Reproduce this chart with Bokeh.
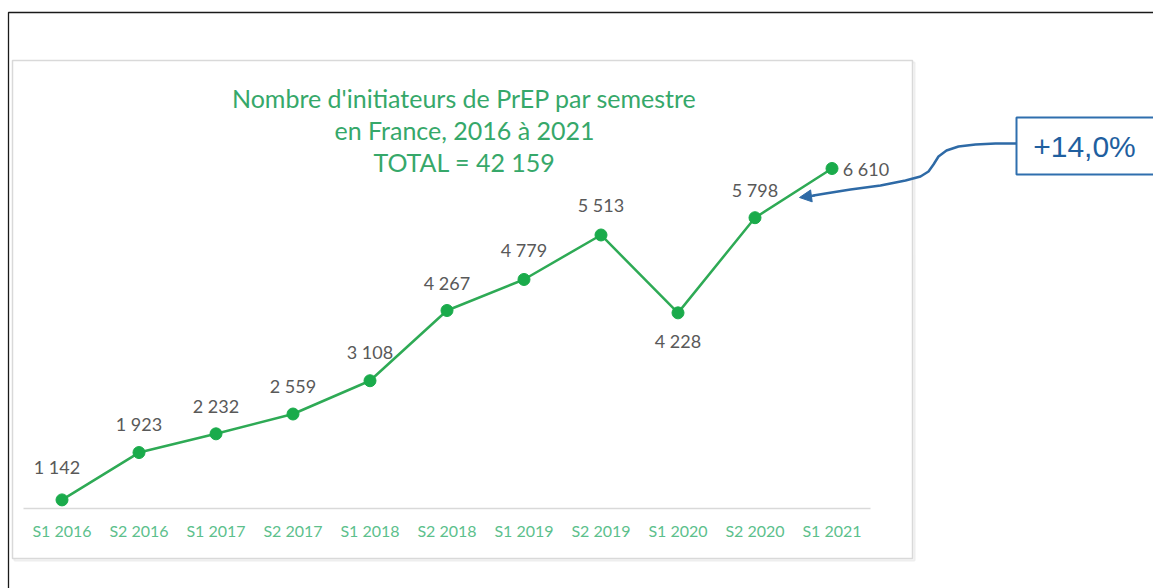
from bokeh.plotting import figure
from bokeh.models import (Range1d, ColumnDataSource, LabelSet, Label, FixedTicker,
                          BoxAnnotation, Arrow, NormalHead)
from bokeh.core.properties import value
from bokeh.embed import file_html
from bokeh.resources import INLINE

# ---- data ----
categories = ["S1 2016", "S2 2016", "S1 2017", "S2 2017", "S1 2018", "S2 2018",
              "S1 2019", "S2 2019", "S1 2020", "S2 2020", "S1 2021"]
values = [1142, 1923, 2232, 2559, 3108, 4267, 4779, 5513, 4228, 5798, 6610]
value_labels = ["1 142", "1 923", "2 232", "2 559", "3 108", "4 267",
                "4 779", "5 513", "4 228", "5 798", "6 610"]
title_lines = ["Nombre d'initiateurs de PrEP par semestre",
               "en France, 2016 à 2021",
               "TOTAL = 42 159"]
callout_text = "+14,0%"

# ---- layout constants (pixels) ----
W, H = 1153, 588
X0, DX = 61.5, 77.0            # pixel x of first category, category spacing
Y_AXIS_PX, Y_AXIS_VAL = 508.0, 1000.0
UNITS_PER_PX = 16.5

idx = list(range(len(categories)))

p = figure(width=W, height=H,
           x_range=Range1d(-X0 / DX, (W - X0) / DX),
           y_range=Range1d(Y_AXIS_VAL - (H - Y_AXIS_PX) * UNITS_PER_PX,
                           Y_AXIS_VAL + Y_AXIS_PX * UNITS_PER_PX),
           y_axis_location=None,
           output_backend="svg", toolbar_location=None, tools="",
           min_border=0, min_border_left=0, min_border_right=0,
           min_border_top=0, min_border_bottom=0)
p.outline_line_color = None
p.background_fill_color = "white"
p.border_fill_color = "white"
p.grid.visible = False

# pixel-space ranges for decorations (value == page pixel, y from top)
p.extra_x_ranges = {"px": Range1d(0, W)}
p.extra_y_ranges = {"py": Range1d(H, 0)}

# outer black frame
p.add_layout(BoxAnnotation(left=8, right=W + 20, top=12, bottom=H + 20,
                           x_range_name="px", y_range_name="py",
                           fill_alpha=0, line_color="#1a1a1a", line_alpha=1,
                           line_width=1.3, level="underlay"))
# chart area box (with faint shadow)
p.add_layout(BoxAnnotation(left=14, right=914, top=62, bottom=560,
                           x_range_name="px", y_range_name="py",
                           fill_alpha=0, line_color="#eeeeee", line_alpha=1,
                           line_width=2, level="underlay"))
p.add_layout(BoxAnnotation(left=12, right=912, top=60, bottom=558,
                           x_range_name="px", y_range_name="py",
                           fill_color="white", fill_alpha=1,
                           line_color="#d9d9d9", line_alpha=1,
                           line_width=1.5, level="underlay"))

# x axis (category labels) drawn at the axis minimum inside the canvas
xa = p.xaxis[0]
xa.fixed_location = Y_AXIS_VAL
xa.bounds = (-0.5, len(categories) - 0.5)
xa.ticker = FixedTicker(ticks=idx)
xa.major_label_overrides = {i: c for i, c in zip(idx, categories)}
xa.axis_line_color = "#d9d9d9"
xa.axis_line_width = 1.5
xa.major_tick_line_color = None
xa.minor_tick_line_color = None
xa.major_label_text_color = "#5cbf8c"
xa.major_label_text_font = "Lato"
xa.major_label_text_font_size = "16px"
xa.major_label_standoff = 6

# title
for i, t in enumerate(title_lines):
    p.add_layout(Label(x=464, y=97 + 32 * i, text=t,
                       x_range_name="px", y_range_name="py",
                       text_align="center", text_baseline="middle",
                       text_color="#36a86a", text_font="Lato", text_font_size="25px"))

src = ColumnDataSource(dict(x=idx, y=values, lab=value_labels,
                            dx=[-5, 0, 0, 0, 0, 0, 0, 0, 0, 0, 34],
                            dy=[33, 29, 28, 28, 29, 28, 29, 30, -28, 28, 0]))
p.line("x", "y", source=src, line_color="#2eaa55", line_width=2.5)
p.scatter("x", "y", source=src, size=12, fill_color="#1aab4b", line_color="#1aab4b")
p.add_layout(LabelSet(x="x", y="y", text="lab", source=src,
                      x_offset="dx", y_offset="dy",
                      text_align="center", text_baseline="middle",
                      text_color="#595959", text_font=value("Lato"),
                      text_font_size="18px"))

# callout box
p.add_layout(BoxAnnotation(left=1016, right=W + 20, top=117, bottom=174,
                           x_range_name="px", y_range_name="py",
                           fill_color="white", fill_alpha=1,
                           line_color="#2f6fae", line_alpha=1, line_width=2))
p.add_layout(Label(x=1084, y=146, text=callout_text,
                   x_range_name="px", y_range_name="py",
                   text_align="center", text_baseline="middle",
                   text_color="#1f5f9f", text_font="Liberation Sans", text_font_size="30px"))

# curved connector with arrow head
cx = [1016, 995, 975, 958, 946, 938, 933, 928, 920, 905, 880, 850, 825, 813]
cy = [143, 143, 144, 146, 150, 156, 164, 171, 176, 180, 185, 189, 193, 195]
p.line(cx, cy, x_range_name="px", y_range_name="py",
       line_color="#2e6aa6", line_width=2.5)
p.add_layout(Arrow(x_start=814, y_start=195, x_end=799, y_end=197,
                   x_range_name="px", y_range_name="py",
                   line_color="#2e6aa6", line_width=2.5,
                   end=NormalHead(size=12, fill_color="#2e6aa6", line_color="#2e6aa6")))

open("out.html", "w").write(file_html(p, INLINE))
